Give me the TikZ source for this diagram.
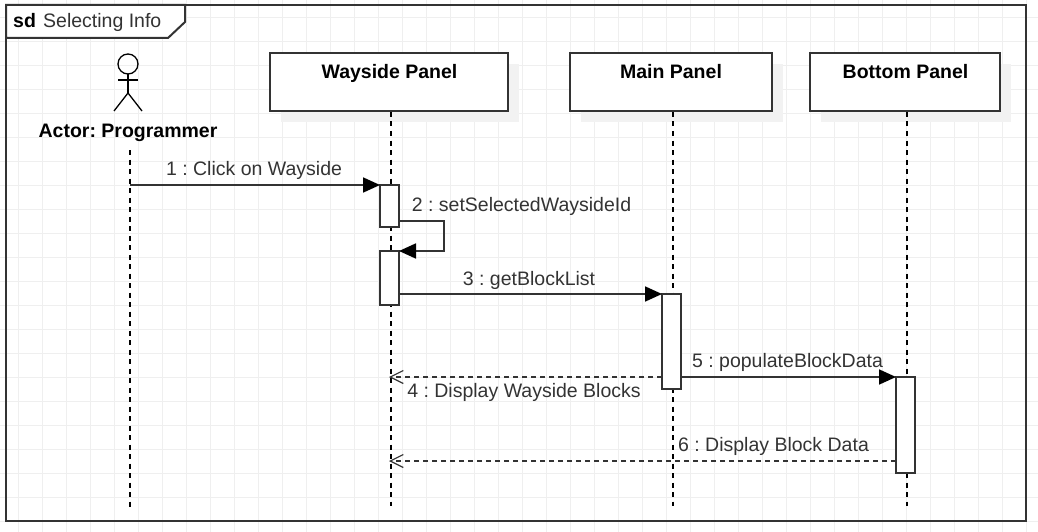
\documentclass[tikz,border=0pt]{standalone}
\usepackage{fontspec}
\setmainfont{Liberation Sans}
\usetikzlibrary{arrows.meta}
\definecolor{gridgray}{HTML}{EFEFEF}
\definecolor{shadowgray}{HTML}{F2F2F2}
\definecolor{linegray}{HTML}{333333}
\newcommand{\bodyfont}{\fontsize{19.5}{23}\selectfont\frenchspacing}
\tikzset{
  gridline/.style={gridgray, line width=0.9pt},
  framebox/.style={draw=linegray, line width=2pt},
  headbox/.style={draw=linegray, fill=white, line width=2pt, minimum height=58pt, inner sep=0pt, outer sep=0pt},
  headshadow/.style={fill=shadowgray, minimum height=58pt, inner sep=0pt},
  headtext/.style={font=\bodyfont\bfseries, text=black, inner sep=0pt},
  msgtext/.style={font=\bodyfont, text=linegray, inner sep=0pt},
  actbox/.style={draw=linegray, fill=white, line width=2pt, minimum width=19pt, inner sep=0pt, outer sep=0pt},
  lifeline/.style={black, line width=1.1pt, dash pattern=on 5pt off 4.5pt},
  actorline/.style={black, line width=1.3pt},
  callmsg/.style={draw=linegray, line width=1.8pt, -{Triangle[length=17pt,width=15pt,fill=black,color=black]}},
  returnmsg/.style={draw=linegray, line width=1.4pt, dash pattern=on 5pt off 4pt, -{Straight Barb[length=13pt,width=13pt,line width=1.2pt]}}
}
\begin{document}
\begin{tikzpicture}[x=1pt,y=-1pt]
  \useasboundingbox (0,0) rectangle (1038,532);
  % background grid
  \foreach \gx in {18,42,...,1038}
    \draw[gridline] (\gx,0) -- (\gx,532);
  \foreach \gy in {17,41,...,532}
    \draw[gridline] (0,\gy) -- (1038,\gy);
  % frame
  \draw[framebox] (6,5) rectangle (1026,521);
  \draw[framebox,fill=white] (6,5) -- (185,5) -- (185,22) -- (168,38) -- (6,38) -- cycle;
  \node[anchor=base west,font=\bodyfont\bfseries,inner sep=0pt] (sdtag) at (13,28) {sd};
  \node[anchor=base west,font=\bodyfont,text=linegray,inner sep=0pt] (sdname) at (43,28) {Selecting Info};
  % actor
  \coordinate (neck) at (128,74);
  \coordinate (hip) at (128,93);
  \draw[actorline] (128,64) circle (10);
  \draw[actorline] (neck) -- (hip);
  \draw[actorline] (118,80) -- (138,80);
  \draw[actorline] (114,111) -- (hip) -- (142,111);
  \node[headtext] (actor) at (128,133) {Actor: Programmer};
  % heads
  \node[headshadow,minimum width=238pt] at (400,93) {};
  \node[headshadow,minimum width=202pt] at (682,93) {};
  \node[headshadow,minimum width=190pt] at (916,93) {};
  \node[headbox,minimum width=238pt] (wayside) at (389,82) {};
  \node[headbox,minimum width=202pt] (main) at (671,82) {};
  \node[headbox,minimum width=190pt] (bottom) at (905,82) {};
  \node[headtext] (waysidename) at (389.5,73) {Wayside Panel};
  \node[headtext] (mainname) at (671,72) {Main Panel};
  \node[headtext] (bottomname) at (905.5,72) {Bottom Panel};
  % lifelines
  \coordinate (actortop) at (130,150);
  \coordinate (actorend) at (130,507);
  \coordinate (waysidetop) at (391,112);
  \coordinate (waysideend) at (391,506);
  \coordinate (maintop) at (673,112);
  \coordinate (mainend) at (673,506);
  \coordinate (bottomtop) at (907,112);
  \coordinate (bottomend) at (907,506);
  \draw[lifeline] (actortop) -- (actorend);
  \draw[lifeline] (waysidetop) -- (waysideend);
  \draw[lifeline] (maintop) -- (mainend);
  \draw[lifeline] (bottomtop) -- (bottomend);
  % activations
  \node[actbox,minimum height=42pt] (act1) at (389.5,206) {};
  \node[actbox,minimum height=54pt] (act2) at (389.5,278) {};
  \node[actbox,minimum height=95pt] (act3) at (671.5,341.5) {};
  \node[actbox,minimum height=96pt] (act4) at (905.5,425) {};
  % messages
  \coordinate (start1) at (130,185);
  \coordinate (back4) at (389,377);
  \coordinate (back6) at (389,461);
  \draw[callmsg] (start1) -- (act1.north west);
  \draw[callmsg] (act1.east |- 0,221) -- (444,221) -- (444,251) -- (act2.north east);
  \draw[callmsg] (act2.east |- 0,294) -- (act3.north west);
  \draw[returnmsg] (act3.west |- 0,377) -- (back4);
  \draw[callmsg] (act3.east |- 0,377) -- (act4.north west);
  \draw[returnmsg] (act4.west |- 0,461) -- (back6);
  \node[msgtext] (label1) at (254,170) {1 : Click on Wayside};
  \node[msgtext] (label2) at (521.5,206) {2 : setSelectedWaysideId};
  \node[msgtext] (label3) at (529,280) {3 : getBlockList};
  \node[msgtext] (label4) at (524,392) {4 : Display Wayside Blocks};
  \node[msgtext] (label5) at (787.5,362) {5 : populateBlockData};
  \node[msgtext] (label6) at (773.5,446) {6 : Display Block Data};
\end{tikzpicture}
\end{document}
